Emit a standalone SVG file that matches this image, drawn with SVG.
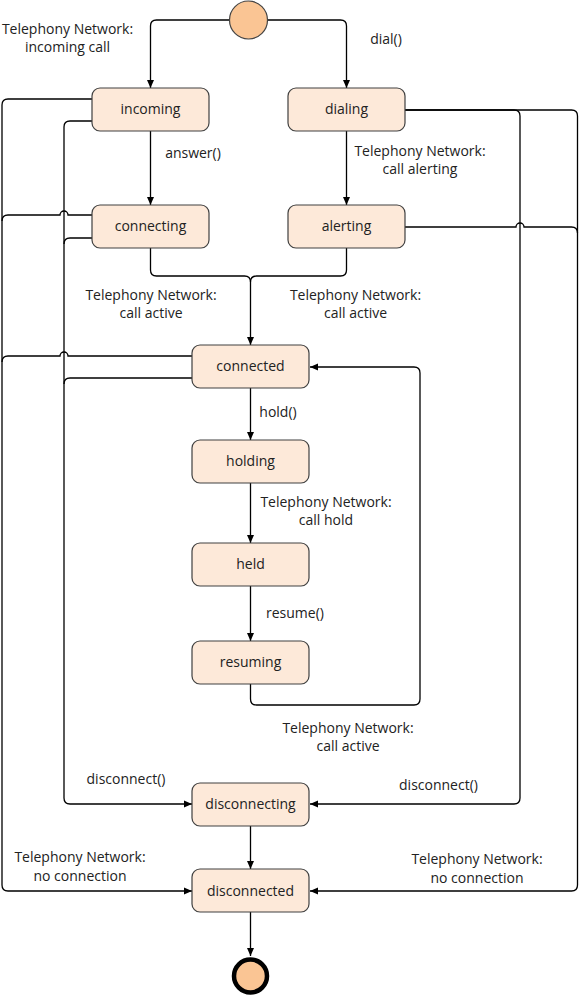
<svg xmlns="http://www.w3.org/2000/svg" width="579" height="996" viewBox="0 0 579 996">
<defs>
<marker id="arr" markerUnits="userSpaceOnUse" markerWidth="9" markerHeight="8" refX="8" refY="4" orient="auto">
<path d="M0,0.5 L8,4 L0,7.5 z" fill="#000"/>
</marker>
<style>
.node rect{fill:#FDE9D9;stroke:#404040;stroke-width:1.2}
.node text,.lbl{font-family:"Open Sans","Noto Sans",sans-serif;font-size:14px;fill:#222}
.node text{text-anchor:middle}
.lbl{text-anchor:middle}
.c path{fill:none;stroke:#000;stroke-width:1.3}
.a{marker-end:url(#arr)}
</style>
</defs>
<rect width="579" height="996" fill="#fff"/>
<g class="c" id="connectors">
<path class="a" d="M229.5,20 H156.5 Q150.5,20 150.5,26 V88"/>
<path class="a" d="M267.5,20 H340.5 Q346.5,20 346.5,26 V88"/>
<path class="a" d="M150.5,131 V205"/>
<path class="a" d="M346.5,131 V205"/>
<path d="M150.5,248 V270 Q150.5,276 156.5,276 H244.5 Q250.5,276 250.5,282"/>
<path class="a" d="M346.5,248 V270 Q346.5,276 340.5,276 H256.5 Q250.5,276 250.5,282 V345"/>
<path class="a" d="M250.5,388 V440"/>
<path class="a" d="M250.5,483 V543"/>
<path class="a" d="M250.5,586 V641"/>
<path class="a" d="M250.5,684 V699 Q250.5,705 256.5,705 H414 Q420,705 420,699 V373 Q420,367 414,367 H310"/>
<path class="a" d="M250.5,826 V869"/>
<path class="a" d="M250.5,912 V956"/>
<path class="a" d="M92,99 H8 Q2,99 2,105 V885 Q2,891 8,891 H192"/>
<path class="a" d="M92,121 H70 Q64,121 64,127 V798 Q64,804 70,804 H192"/>
<path d="M92,215 H68 A4,4 0 0 0 60,215 H8 Q2,215 2,221"/>
<path d="M92,238 H70 Q64,238 64,244"/>
<path d="M192,356 H68 A4,4 0 0 0 60,356 H8 Q2,356 2,362"/>
<path d="M192,378 H70 Q64,378 64,384"/>
<path class="a" d="M405,110 H514 Q520,110 520,116 V798 Q520,804 514,804 H310"/>
<path class="a" d="M405,110 H571.5 Q577.5,110 577.5,116 V885 Q577.5,891 571.5,891 H310"/>
<path d="M405,227 H516 A4,4 0 0 1 524,227 H571.5 Q577.5,227 577.5,233"/>
</g>
<g id="start"><circle cx="248.5" cy="20" r="19" fill="#FAC594" stroke="#444" stroke-width="1.2"/></g>
<g id="end"><circle cx="250.5" cy="976" r="16.5" fill="#FAC594" stroke="#000" stroke-width="4.5"/></g>
<g class="node" id="incoming"><rect x="92" y="88" width="117" height="43" rx="8"/><text x="150.5" y="114">incoming</text></g>
<g class="node" id="dialing"><rect x="288" y="88" width="117" height="43" rx="8"/><text x="346.5" y="114">dialing</text></g>
<g class="node" id="connecting"><rect x="92" y="205" width="117" height="43" rx="8"/><text x="150.5" y="231">connecting</text></g>
<g class="node" id="alerting"><rect x="288" y="205" width="117" height="43" rx="8"/><text x="346.5" y="231">alerting</text></g>
<g class="node" id="connected"><rect x="192" y="345" width="117" height="43" rx="8"/><text x="250.5" y="371">connected</text></g>
<g class="node" id="holding"><rect x="192" y="440" width="117" height="43" rx="8"/><text x="250.5" y="466">holding</text></g>
<g class="node" id="held"><rect x="192" y="543" width="117" height="43" rx="8"/><text x="250.5" y="569">held</text></g>
<g class="node" id="resuming"><rect x="192" y="641" width="117" height="43" rx="8"/><text x="250.5" y="667">resuming</text></g>
<g class="node" id="disconnecting"><rect x="192" y="783" width="117" height="43" rx="8"/><text x="250.5" y="809">disconnecting</text></g>
<g class="node" id="disconnected"><rect x="192" y="869" width="117" height="43" rx="8"/><text x="250.5" y="896">disconnected</text></g>
<g id="labels">
<text class="lbl" x="67.5" y="34">Telephony Network:</text>
<text class="lbl" x="67.5" y="52">incoming call</text>
<text class="lbl" x="386" y="44">dial()</text>
<text class="lbl" x="193" y="158">answer()</text>
<text class="lbl" x="420" y="156">Telephony Network:</text>
<text class="lbl" x="420" y="174">call alerting</text>
<text class="lbl" x="151" y="300">Telephony Network:</text>
<text class="lbl" x="151" y="318">call active</text>
<text class="lbl" x="355.5" y="300">Telephony Network:</text>
<text class="lbl" x="355.5" y="318">call active</text>
<text class="lbl" x="278" y="417">hold()</text>
<text class="lbl" x="326" y="507">Telephony Network:</text>
<text class="lbl" x="326" y="525">call hold</text>
<text class="lbl" x="295" y="618">resume()</text>
<text class="lbl" x="348" y="733">Telephony Network:</text>
<text class="lbl" x="348" y="751">call active</text>
<text class="lbl" x="126" y="784">disconnect()</text>
<text class="lbl" x="438.5" y="790">disconnect()</text>
<text class="lbl" x="80" y="862">Telephony Network:</text>
<text class="lbl" x="80" y="881">no connection</text>
<text class="lbl" x="477" y="864">Telephony Network:</text>
<text class="lbl" x="477" y="883">no connection</text>
</g>
</svg>
